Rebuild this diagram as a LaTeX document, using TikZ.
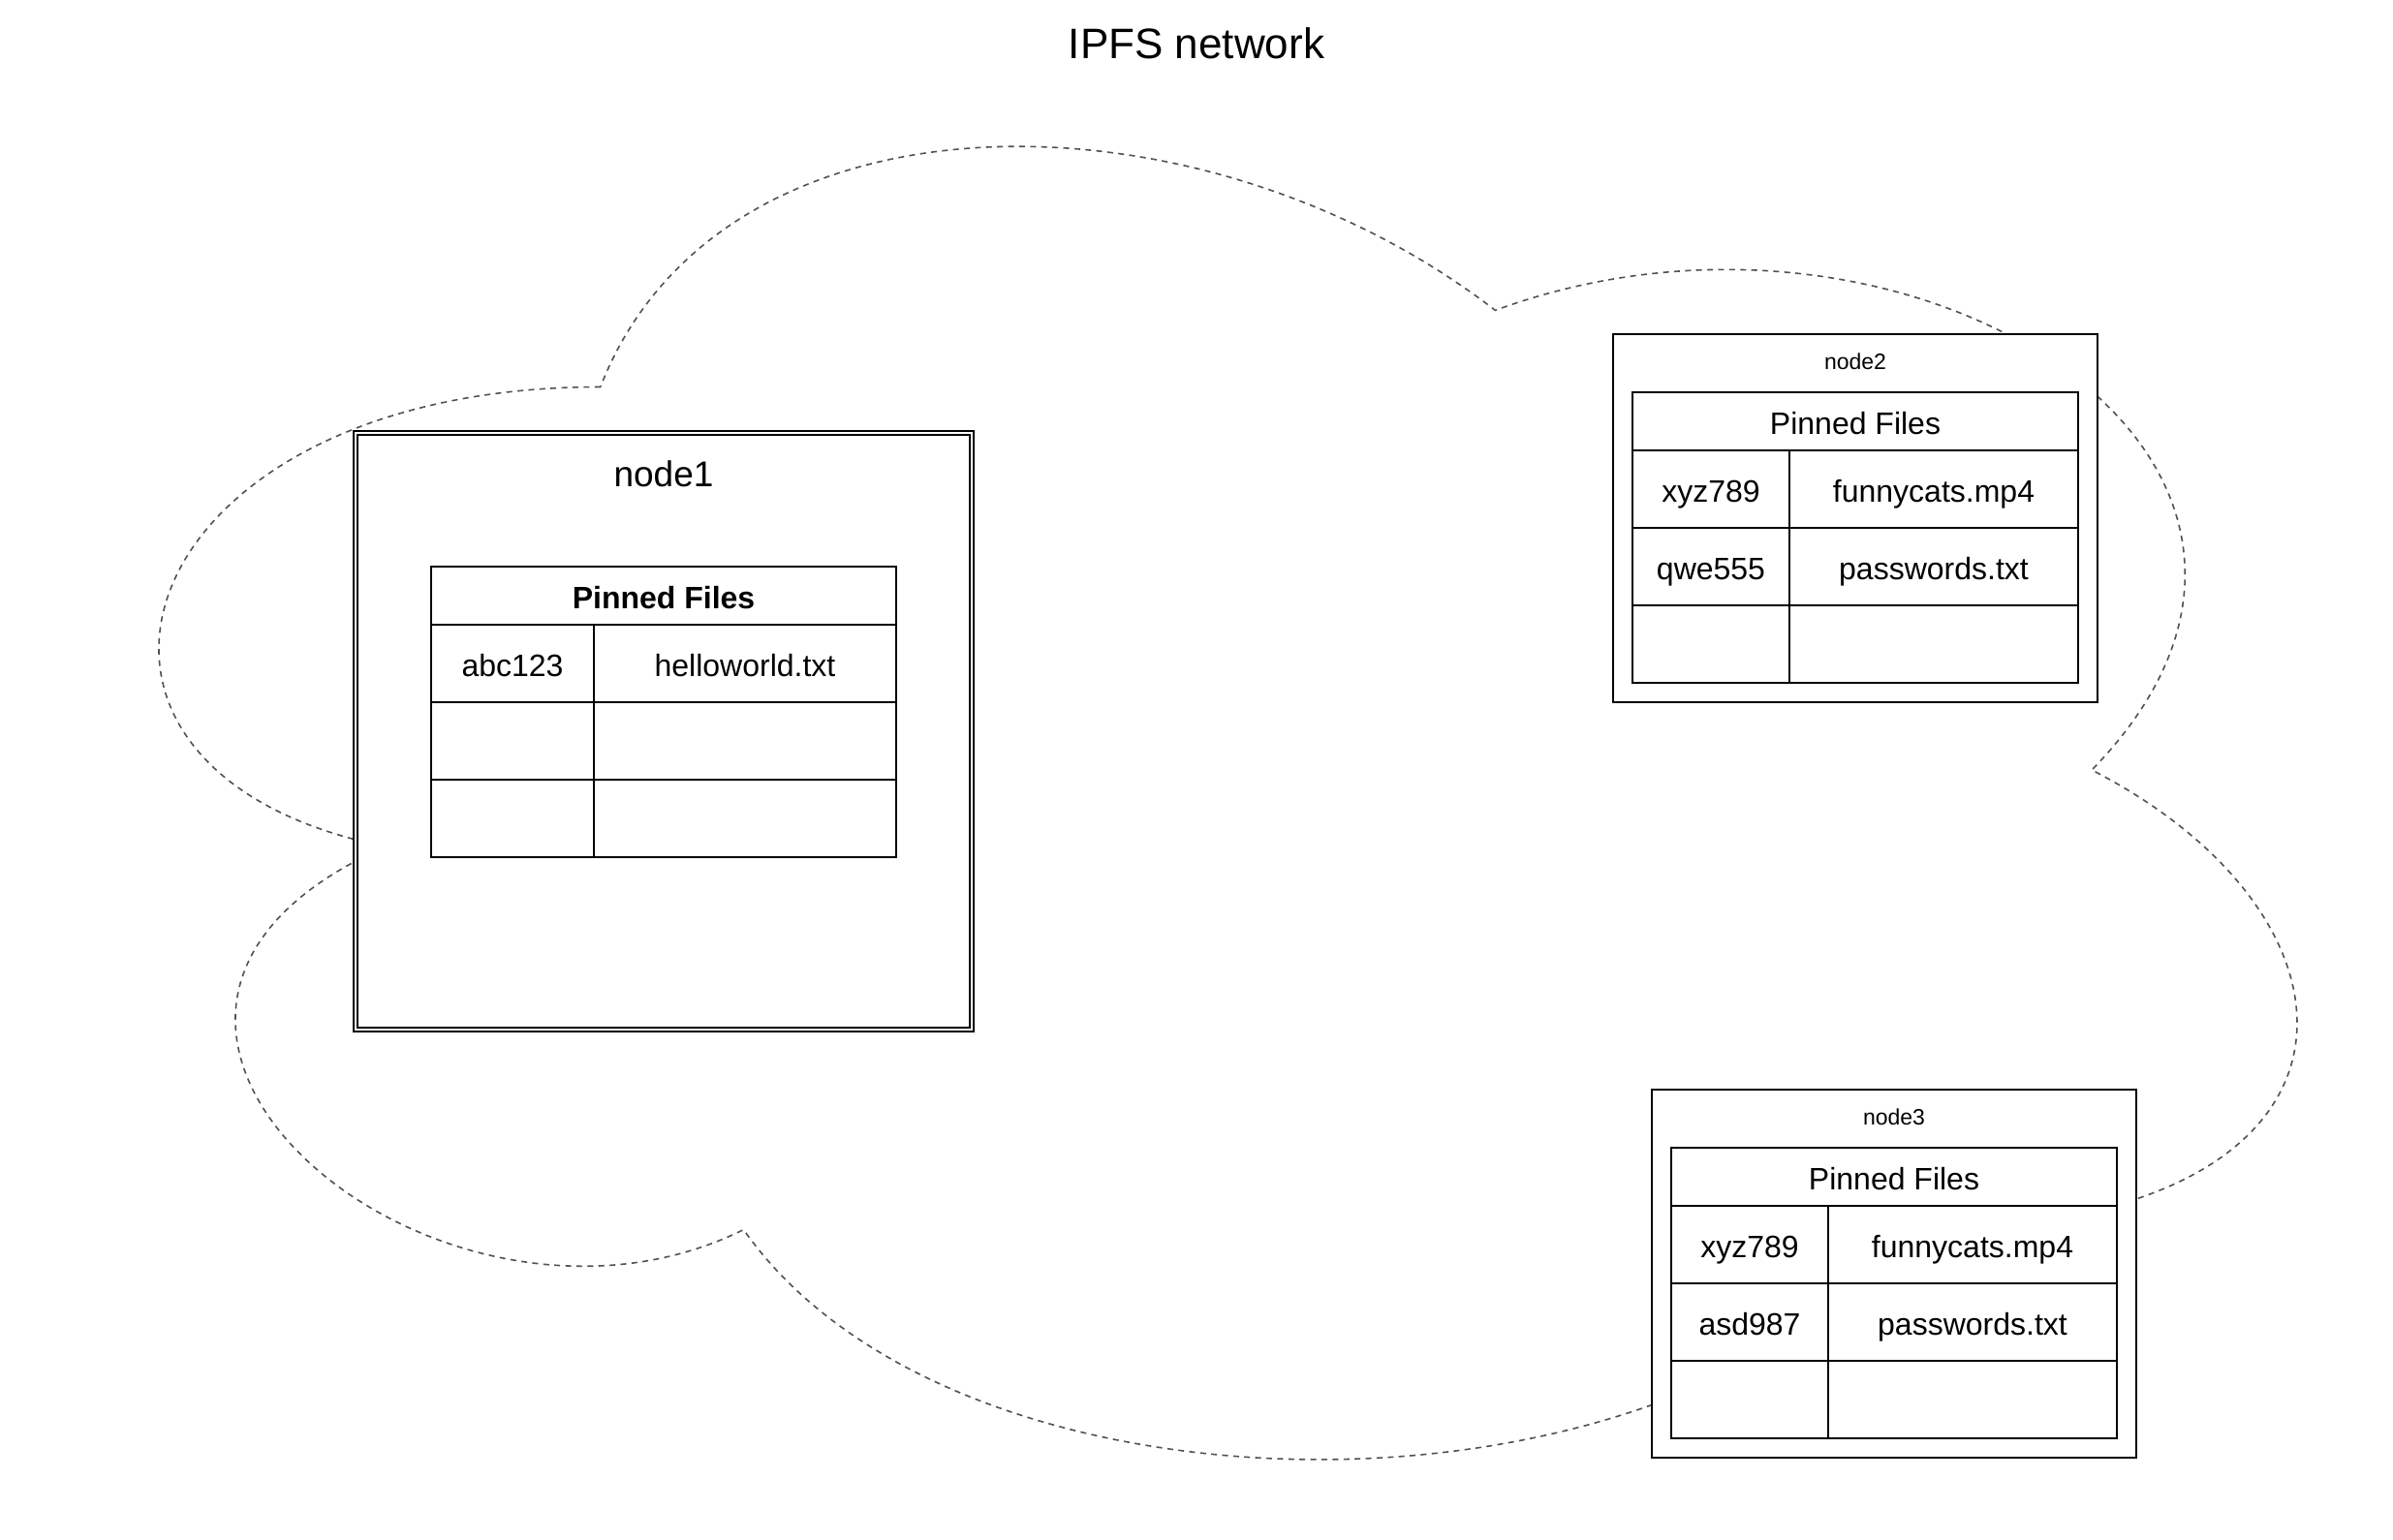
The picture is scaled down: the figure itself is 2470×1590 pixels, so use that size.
\documentclass[tikz,border=0pt]{standalone}
\usepackage{fontspec}
\setmainfont{Liberation Sans}
\begin{document}
\begin{tikzpicture}[x=0.5pt,y=-0.5pt,
  cloudline/.style={draw=black!68, line width=0.8pt, dash pattern=on 3pt off 2.7pt},
  box/.style={draw, line width=1pt, fill=white, inner sep=0pt, outer sep=0pt, anchor=north west},
  dbox/.style={box, double, double distance=1pt},
  cell/.style={draw, line width=1pt, fill=white, inner sep=0pt, outer sep=0pt, anchor=north west,
    font=\fontsize{16}{19}\selectfont, text height=13pt, text depth=0pt},
  hdr/.style={cell, minimum height=30pt},
  rowcell/.style={cell, minimum height=40pt},
  lbl/.style={inner sep=0pt, anchor=base}
]
\useasboundingbox (0,0) rectangle (2470,1590);
\fill[white] (0,0) rectangle (2470,1590);

% title
\node[lbl, font=\fontsize{22}{26}\selectfont] (title) at (1235,61) {IPFS network};

% cloud
\begin{scope}[shift={(4,4)}, xscale=2463, yscale=1582]
\draw[cloudline] (0.25,0.25) .. controls (0.05,0.25) and (0,0.5) .. (0.16,0.55)
 .. controls (0,0.66) and (0.18,0.9) .. (0.31,0.8)
 .. controls (0.4,1) and (0.7,1) .. (0.8,0.8)
 .. controls (1,0.8) and (1,0.6) .. (0.875,0.5)
 .. controls (1,0.3) and (0.8,0.1) .. (0.625,0.2)
 .. controls (0.5,0.05) and (0.3,0.05) .. (0.25,0.25) -- cycle;
\end{scope}

% node1
\node[dbox, minimum width=318pt, minimum height=308pt] (n1) at (367,447) {};
\node[lbl, font=\fontsize{18.5}{22}\selectfont] (n1lbl) at (685,502) {node1};
\node[hdr, minimum width=240pt, font=\fontsize{16}{19}\selectfont\bfseries] (t1h) at (445,585) {Pinned Files};
\node[rowcell, minimum width=84pt] (t1a1) at (445,645) {abc123};
\node[rowcell, minimum width=156pt] (t1b1) at (613,645) {helloworld.txt};
\node[rowcell, minimum width=84pt] (t1a2) at (445,725) {};
\node[rowcell, minimum width=156pt] (t1b2) at (613,725) {};
\node[rowcell, minimum width=84pt] (t1a3) at (445,805) {};
\node[rowcell, minimum width=156pt] (t1b3) at (613,805) {};

% node2
\node[box, minimum width=250pt, minimum height=190pt] (n2) at (1665,345) {};
\node[lbl, font=\fontsize{11.5}{14}\selectfont] (n2lbl) at (1915,381) {node2};
\node[hdr, minimum width=230pt] (t2h) at (1685,405) {Pinned Files};
\node[rowcell, minimum width=81pt] (t2a1) at (1685,465) {xyz789};
\node[rowcell, minimum width=149pt] (t2b1) at (1847,465) {funnycats.mp4};
\node[rowcell, minimum width=81pt] (t2a2) at (1685,545) {qwe555};
\node[rowcell, minimum width=149pt] (t2b2) at (1847,545) {passwords.txt};
\node[rowcell, minimum width=81pt] (t2a3) at (1685,625) {};
\node[rowcell, minimum width=149pt] (t2b3) at (1847,625) {};

% node3
\node[box, minimum width=250pt, minimum height=190pt] (n3) at (1705,1125) {};
\node[lbl, font=\fontsize{11.5}{14}\selectfont] (n3lbl) at (1955,1161) {node3};
\node[hdr, minimum width=230pt] (t3h) at (1725,1185) {Pinned Files};
\node[rowcell, minimum width=81pt] (t3a1) at (1725,1245) {xyz789};
\node[rowcell, minimum width=149pt] (t3b1) at (1887,1245) {funnycats.mp4};
\node[rowcell, minimum width=81pt] (t3a2) at (1725,1325) {asd987};
\node[rowcell, minimum width=149pt] (t3b2) at (1887,1325) {passwords.txt};
\node[rowcell, minimum width=81pt] (t3a3) at (1725,1405) {};
\node[rowcell, minimum width=149pt] (t3b3) at (1887,1405) {};
\end{tikzpicture}
\end{document}
